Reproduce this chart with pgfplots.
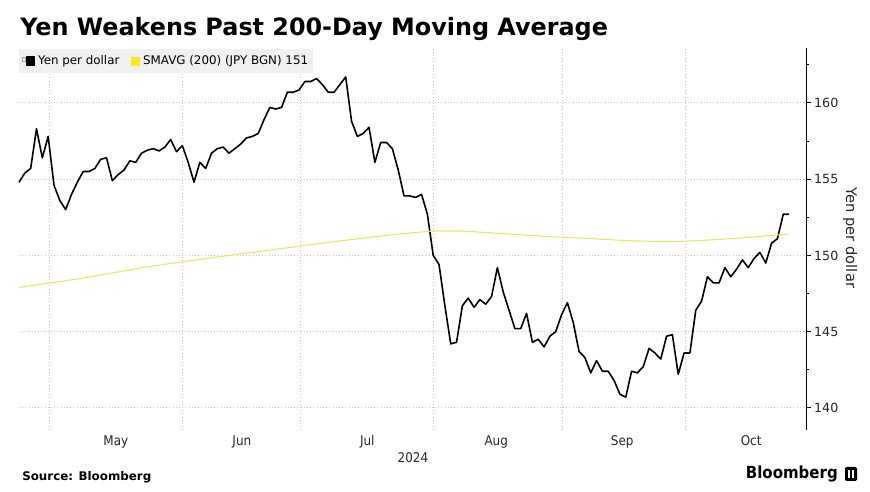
\documentclass[border=0pt]{standalone}
\usepackage{fontspec}
\setmainfont{DejaVu Sans}
\newfontfamily\condfont{DejaVu Sans Condensed}
\usepackage{pgfplots}
\usepackage{pgfplotstable}
\pgfplotsset{compat=1.18}
\definecolor{smacol}{HTML}{EFE55C}
\definecolor{legyel}{HTML}{FFE817}
\definecolor{gridcol}{HTML}{C8C8C8}
\definecolor{legbg}{HTML}{F0F0F0}

\pgfplotstableread{
i v
0 154.8
1 155.4
2 155.7
3 158.3
4 156.4
5 157.8
6 154.6
7 153.6
8 153.0
9 154.0
10 154.8
11 155.5
12 155.5
13 155.7
14 156.3
15 156.4
16 154.9
17 155.3
18 155.6
19 156.2
20 156.1
21 156.7
22 156.9
23 157.0
24 156.85
25 157.1
26 157.6
27 156.8
28 157.2
29 156.1
30 154.8
31 156.1
32 155.7
33 156.7
34 157.0
35 157.1
36 156.7
37 157.0
38 157.3
39 157.7
40 157.8
41 158.0
42 158.9
43 159.7
44 159.6
45 159.7
46 160.7
47 160.7
48 160.85
49 161.4
50 161.4
51 161.6
52 161.2
53 160.7
54 160.7
55 161.2
56 161.7
57 158.8
58 157.8
59 158.0
60 158.4
61 156.1
62 157.4
63 157.4
64 157.0
65 155.6
66 153.9
67 153.9
68 153.8
69 154.0
70 152.7
71 150.0
72 149.4
73 146.7
74 144.2
75 144.3
76 146.7
77 147.2
78 146.6
79 147.1
80 146.8
81 147.3
82 149.2
83 147.6
84 146.4
85 145.2
86 145.2
87 146.2
88 144.3
89 144.5
90 144.0
91 144.7
92 145.0
93 146.1
94 146.9
95 145.6
96 143.7
97 143.3
98 142.3
99 143.1
100 142.4
101 142.4
102 141.8
103 140.9
104 140.7
105 142.4
106 142.3
107 142.7
108 143.9
109 143.6
110 143.2
111 144.7
112 144.8
113 142.2
114 143.6
115 143.6
116 146.4
117 147.0
118 148.6
119 148.2
120 148.2
121 149.2
122 148.6
123 149.1
124 149.7
125 149.2
126 149.8
127 150.2
128 149.5
129 150.8
130 151.1
131 152.7
132 152.7
}\yen

\pgfplotstableread{
i v
0 147.9
10 148.45
22 149.25
35 149.95
44 150.4
55 150.95
65 151.4
71 151.6
76 151.6
82 151.45
90 151.25
98 151.1
105 150.95
112 150.9
118 151.0
124 151.15
132 151.4
}\sma

\begin{document}
\begin{tikzpicture}[x=0.75pt,y=0.75pt]
\useasboundingbox (0,0) rectangle (870,492);
\node[anchor=base west, inner sep=0pt, font=\bfseries\fontsize{17.9}{20}\selectfont] at (20,456) {Yen Weakens Past 200-Day Moving Average};
\begin{axis}[
  at={(14.25pt,46.5pt)}, anchor=south west,
  scale only axis,
  width=590.25pt, height=286.5pt,
  xmin=0, xmax=134.9, ymin=138.55, ymax=163.6,
  axis y line*=right, axis x line*=bottom,
  x axis line style={draw=none},
  y axis line style={draw=black, line width=0.6pt},
  tick align=outside,
  xtick={16.6,38.2,59.7,81.8,103.4,125.5},
  xticklabels={May,Jun,Jul,Aug,Sep,Oct},
  major x tick style={draw=none},
  minor xtick={5.14,28.0,48.2,71.1,93.1,114.2},
  minor x tick style={draw=none},
  xminorgrids,
  minor x grid style={gridcol, dotted, line width=0.6pt},
  ytick={140,145,150,155,160},
  minor ytick={142.5,147.5,152.5,157.5,162.5},
  ymajorgrids,
  major y grid style={gridcol, dotted, line width=0.6pt},
  major tick length=3.6pt,
  minor tick length=2.2pt,
  every tick/.style={black, line width=0.6pt},
  /pgf/number format/assume math mode=true,
  yticklabel style={font=\fontsize{9.5}{10}\selectfont, anchor=west, xshift=-1pt, text=black!85},
  xticklabel style={font=\condfont\fontsize{10}{11}\selectfont, text=black!85, yshift=3pt},
  ylabel={Yen per dollar},
  ylabel style={font=\fontsize{11}{12}\selectfont, rotate=180, at={(axis description cs:1.056,0.503)}, anchor=center, text=black!85},
  legend columns=2,
  legend style={at={(axis description cs:0,0.997)}, anchor=north west, fill=legbg, draw=none,
    font=\fontsize{8.9}{10}\selectfont, inner xsep=2pt, inner ysep=2.6pt,
    /tikz/every even column/.append style={column sep=7pt}},
  legend cell align=left,
  clip=false,
]
\addplot[black, line width=1.2pt, line join=round,
  legend image code/.code={
    \draw[gray!70, line width=0.3pt] (0pt,0.2pt) rectangle (2.4pt,2.6pt);
    \fill[black] (3.4pt,-3pt) rectangle (9.4pt,3pt);}]
  table[x=i, y=v] {\yen};
\addlegendentry{Yen per dollar}
\addplot[smacol, line width=0.8pt,
  legend image code/.code={\fill[legyel] (0pt,-3pt) rectangle (6pt,3pt);}]
  table[x=i, y=v] {\sma};
\addlegendentry{SMAVG (200) (JPY BGN) 151}
\end{axis}
\node[font=\condfont\fontsize{10}{11}\selectfont, text=black!85] at (413,34) {2024};
\node[anchor=west, inner sep=0pt, font=\bfseries\fontsize{8.9}{10}\selectfont] at (22,15) {Source: Bloomberg};
\node[anchor=east, inner sep=0pt, font=\condfont\bfseries\fontsize{12.5}{13}\selectfont] at (838,18) {Bloomberg};
\fill[black, rounded corners=1pt] (845,11) rectangle (857,25);
\draw[white, line width=0.9pt] (849,14) -- (849,22) (853,14) -- (853,22);
\end{tikzpicture}
\end{document}
